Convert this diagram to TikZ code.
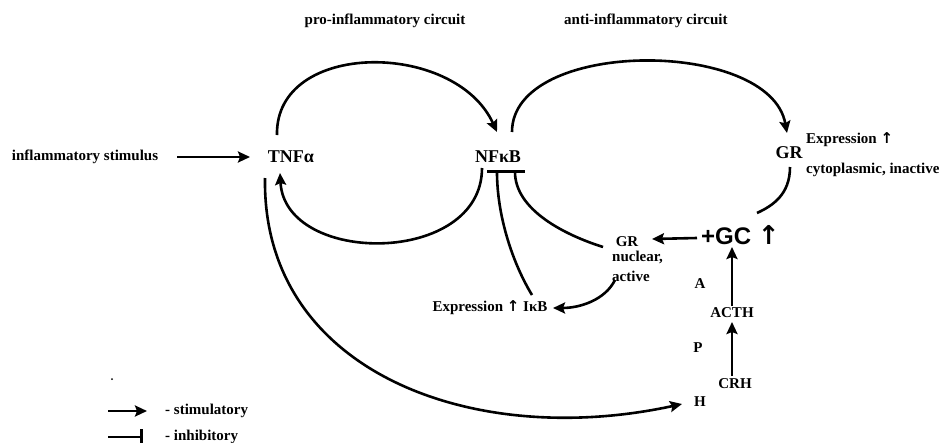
\documentclass[tikz,border=0pt]{standalone}
\usepackage{fontspec}
\setmainfont{Liberation Serif}
\newfontfamily\gcfont{Liberation Sans}
\newfontfamily\arrfont{DejaVu Sans}
\usepackage{tikz}
\usetikzlibrary{arrows.meta}

\newcommand{\upar}{{\arrfont\bfseries ↑}}

\tikzset{
  lbl/.style={font=\bfseries\fontsize{15}{18}\selectfont, inner sep=2pt},
  biglbl/.style={font=\bfseries\fontsize{18}{20}\selectfont, inner sep=2pt},
  stimarrow/.style={line width=2.6pt, -{Stealth[length=12pt, width=11pt, inset=2pt]}},
  inhibline/.style={line width=2.6pt, -{Bar[width=20pt]}},
  plainline/.style={line width=2.6pt}
}

\begin{document}
\begin{tikzpicture}[x=1pt, y=-1pt]
    \useasboundingbox (0,0) rectangle (940,442);

    % circuit titles
    \node[lbl] (proc) at (385,21) {pro-inflammatory circuit};
    \node[lbl, anchor=west] (antic) at (562,21) {anti-inflammatory circuit};

    % main nodes
    \node[lbl] (stim) at (85,157) {inflammatory stimulus};
    \node[biglbl] (tnf) at (291,157) {TNFα};
    \node[biglbl] (nfkb) at (498,157) {NFκB};
    \node[biglbl] (gr) at (789,153) {GR};
    \node[lbl, anchor=west] (grexpr) at (804,140) {Expression \upar};
    \node[lbl, anchor=west] (grcyto) at (804,170) {cytoplasmic, inactive};
    \node[anchor=west, inner sep=1pt, font=\gcfont\bfseries\fontsize{24}{26}\selectfont] (gc) at (700,235) {+GC {\fontsize{26}{26}\selectfont\upar}};
    \node[lbl] (grn) at (627,242) {GR};
    \node[lbl, anchor=north west, align=left] (grnsub) at (610,249) {nuclear,\\[2pt]active};
    \node[lbl] (ikb) at (490,308) {Expression \upar{} IκB};
    \node[lbl] (acth) at (732,313) {ACTH};
    \node[lbl] (crh) at (735,384) {CRH};
    \node[lbl] (lblA) at (700,284) {A};
    \node[lbl] (lblP) at (698,348) {P};
    \node[lbl] (lblH) at (700,402) {H};

    % stimulatory connectors
    \draw[stimarrow] ([shift={(92,0)}]stim.center) -- ([shift={(-41,0)}]tnf.center);
    \draw[stimarrow] ([shift={(-14,-22)}]tnf.center) .. controls +(-2,-95) and +(-42,-92) .. ([shift={(-1,-25)}]nfkb.center);
    \draw[stimarrow] ([shift={(-16,11)}]nfkb.center) .. controls +(0,98) and +(5,93) .. ([shift={(-11,16)}]tnf.center);
    \draw[stimarrow] ([shift={(14,-25)}]nfkb.center) .. controls +(0,-94) and +(-17,-95) .. ([shift={(-2,-20)}]gr.center);
    \draw[plainline] ([shift={(1,14)}]gr.center) .. controls +(0,28) and +(15,-7) .. ([shift={(57,-22)}]gc.west);
    \draw[stimarrow] ([shift={(-3,3)}]gc.west) -- ([shift={(25,-3)}]grn.center);
    \draw[stimarrow] ([shift={(5,31)}]grnsub.north west) .. controls +(-10,20) and +(27,0) .. ([shift={(63,0)}]ikb.center);
    \draw[stimarrow] ([shift={(0,-7)}]acth.center) -- ([shift={(32,12)}]gc.west);
    \draw[stimarrow] ([shift={(-3,-8)}]crh.center) -- ([shift={(0,9)}]acth.center);
    \draw[stimarrow] ([shift={(-26,21)}]tnf.center) .. controls +(-3,192) and +(-212,46) .. ([shift={(-18,2)}]lblH.center);

    % inhibitory connectors
    \draw[inhibline] ([shift={(-24,5)}]grn.center) .. controls +(-38,-12) and +(0,40) .. ([shift={(17,13)}]nfkb.center);
    \draw[inhibline] ([shift={(42,-13)}]ikb.center) .. controls +(-20,-33) and +(0,45) .. ([shift={(-1,13)}]nfkb.center);

    % legend
    \fill (112,379) circle (1pt);
    \coordinate (legA) at (108,411);
    \coordinate (legB) at (147,411);
    \coordinate (legC) at (108,437);
    \coordinate (legD) at (143,437);
    \draw[stimarrow] (legA) -- (legB);
    \draw[line width=2.6pt, -{Bar[width=16pt]}] (legC) -- (legD);
    \node[lbl, anchor=west] (legstim) at (163,411) {- stimulatory};
    \node[lbl, anchor=west] (leginh) at (163,437) {- inhibitory};
\end{tikzpicture}
\end{document}
